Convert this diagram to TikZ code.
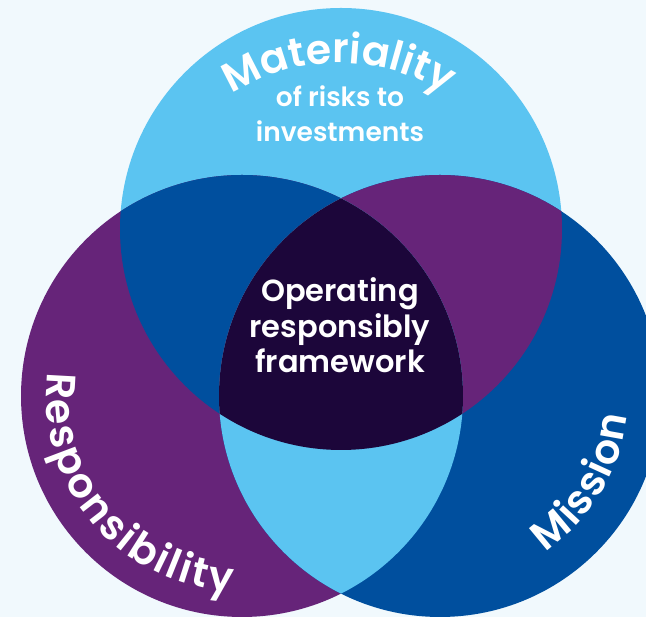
\documentclass[tikz,border=0pt]{standalone}
\usepackage{fontspec}
\newfontfamily\pop{Poppins SemiBold}
\usetikzlibrary{decorations.text,calc}
\definecolor{bgc}{HTML}{F1F9FD}
\definecolor{lblue}{HTML}{5BC4F1}
\definecolor{dblue}{HTML}{004F9E}
\definecolor{purp}{HTML}{662479}
\definecolor{core}{HTML}{1C063A}
\newcommand{\bigfnt}{\pop\fontsize{41}{41}\selectfont\color{white}}
\tikzset{
  sublbl/.style={text=white, font=\pop\fontsize{26.5}{32}\selectfont, inner sep=0pt, anchor=base},
  corelbl/.style={text=white, font=\pop\fontsize{30.5}{36}\selectfont, inner sep=0pt, anchor=base},
}
\begin{document}
\begin{tikzpicture}[x=1pt,y=1pt]
\useasboundingbox (0,0) rectangle (646,617);
\fill[bgc] (0,0) rectangle (646,617);
\coordinate (T) at (341,388);
\coordinate (L) at (242,221);
\coordinate (R) at (440,221);
\def\rr{221}
\fill[lblue] (T) circle (\rr);
\fill[purp] (L) circle (\rr);
\fill[dblue] (R) circle (\rr);
\begin{scope}
  \clip (T) circle (\rr);
  \fill[dblue] (L) circle (\rr);
\end{scope}
\begin{scope}
  \clip (T) circle (\rr);
  \fill[purp] (R) circle (\rr);
\end{scope}
\begin{scope}
  \clip (L) circle (\rr);
  \fill[lblue] (R) circle (\rr);
\end{scope}
\begin{scope}
  \clip (T) circle (\rr);
  \clip (L) circle (\rr);
  \fill[core] (R) circle (\rr);
\end{scope}
% curved titles
\coordinate (MC) at (339,355);
\path[decorate, decoration={text along path, text={|\bigfnt|Materiality}, text align=center}]
  ($(MC)+(135:199)$) arc[start angle=135, end angle=45, radius=199];
\path[decorate, decoration={text along path, text={|\bigfnt|Responsibility}, text align=fit to path}]
  ($(L)+(173:196)$) arc[start angle=173, end angle=267, radius=196];
\path[decorate, decoration={text along path, text={|\bigfnt|Mission}, text align=fit to path}]
  ($(R)+(304:188)$) arc[start angle=304, end angle=354, radius=188];
% other texts
\node[sublbl] (m1) at (340,510) {of risks to};
\node[sublbl] (m2) at (340,475) {investments};
\node[corelbl] (c1) at (340,315) {Operating};
\node[corelbl] (c2) at (340,279) {responsibly};
\node[corelbl] (c3) at (340,244) {framework};
\end{tikzpicture}
\end{document}
